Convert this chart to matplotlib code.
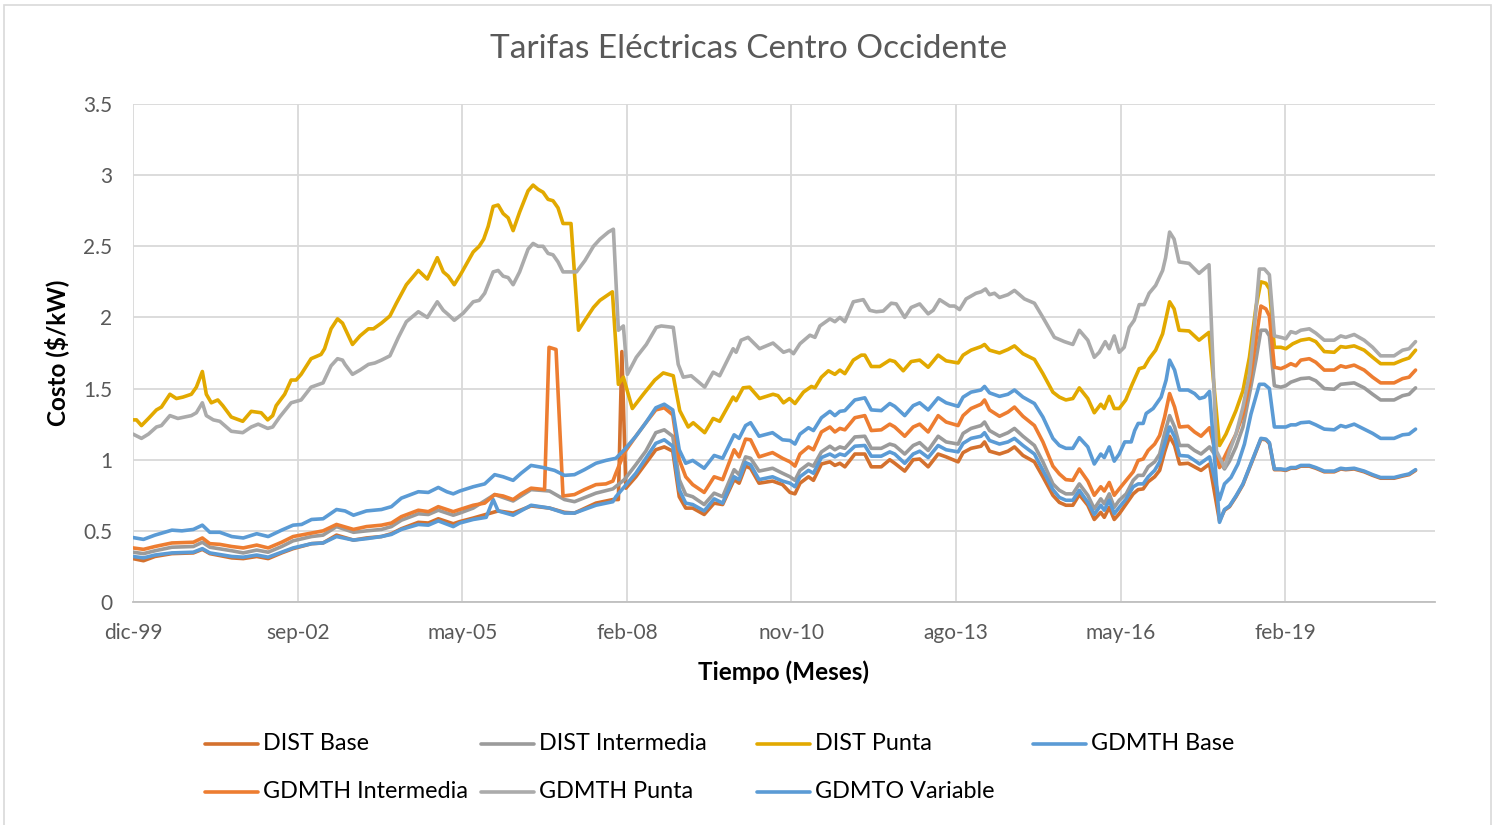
import matplotlib
matplotlib.use('Agg')
import matplotlib.pyplot as plt
from matplotlib.lines import Line2D
from matplotlib.patches import Rectangle

plt.rcParams['font.family'] = ['Lato', 'DejaVu Sans']

# x is the month index, 0 = dic-99
tick_pos = [0, 33, 66, 99, 132, 165, 198, 231]
tick_labels = ['dic-99', 'sep-02', 'may-05', 'feb-08', 'nov-10', 'ago-13', 'may-16', 'feb-19']
y_ticks = [0, 0.5, 1, 1.5, 2, 2.5, 3, 3.5]
y_labels = ['0', '0.5', '1', '1.5', '2', '2.5', '3', '3.5']

names = ['DIST Base', 'DIST Intermedia', 'DIST Punta', 'GDMTH Base',
         'GDMTH Intermedia', 'GDMTH Punta', 'GDMTO Variable']
colors = ['#D4712E', '#9B9B9B', '#E2A900', '#5B9BD5',
          '#ED7D31', '#ABABAB', '#5B9BD5']

# (month, $/kW)
dist_base = [
    (0, 0.305), (2.1, 0.29), (4.4, 0.32), (7.8, 0.34), (12.1, 0.345), (13.9, 0.37), (15.4, 0.34),
    (19.8, 0.31), (22.1, 0.305), (24.8, 0.32), (27.1, 0.305), (29.8, 0.345), (32.1, 0.375),
    (35.8, 0.41), (38.1, 0.415), (40.8, 0.47), (44.2, 0.435), (46.8, 0.45), (49.8, 0.46),
    (51.8, 0.48), (53.8, 0.515), (57.2, 0.56), (59.2, 0.555), (61.2, 0.585), (64.2, 0.55),
    (65.5, 0.565), (68.2, 0.59), (73.2, 0.64), (76.2, 0.625), (79.8, 0.675), (83.5, 0.66),
    (86.5, 0.63), (88.5, 0.625), (92.8, 0.695), (96.2, 0.72), (97.3, 0.72), (98.0, 1.76),
    (98.8, 0.80), (100.8, 0.88), (102.8, 0.975), (104.8, 1.07), (106.5, 1.09), (108.2, 1.06),
    (109.5, 0.74), (110.8, 0.66), (112.2, 0.66), (114.5, 0.615), (116.5, 0.695), (118.2, 0.685),
    (120.5, 0.86), (121.5, 0.835), (122.8, 0.955), (123.8, 0.94), (125.5, 0.835), (128.2, 0.85),
    (130.2, 0.825), (131.7, 0.77), (132.7, 0.76), (133.7, 0.835), (135.4, 0.88), (136.4, 0.855),
    (138, 0.97), (139.7, 0.985), (140.7, 0.96), (141.7, 0.975), (142.7, 0.95), (144.7, 1.04),
    (146.7, 1.04), (148, 0.95), (150, 0.95), (151.7, 1.0), (152.7, 0.975), (154.7, 0.92),
    (156.4, 1.0), (157.7, 1.005), (159.4, 0.95), (161.4, 1.04), (163, 1.02), (165.4, 0.985),
    (166.4, 1.05), (168, 1.08), (170, 1.095), (170.7, 1.125), (171.7, 1.06), (173.7, 1.04),
    (175.4, 1.06), (176.7, 1.09), (178.4, 1.03), (180.7, 0.985), (182.4, 0.88), (184.4, 0.75),
    (185.7, 0.70), (187, 0.68), (188.4, 0.68), (189.7, 0.755), (191.4, 0.68), (192.7, 0.58),
    (194, 0.63), (194.7, 0.595), (195.7, 0.665), (196.7, 0.58), (197.7, 0.62), (199.1, 0.69),
    (200.5, 0.76), (201.5, 0.79), (202.5, 0.795), (203.5, 0.845), (204.8, 0.88), (205.8, 0.925),
    (206.8, 1.055), (207.8, 1.165), (208.8, 1.10), (209.8, 0.97), (211.5, 0.975), (212.8, 0.95),
    (214.1, 0.925), (215.8, 0.97), (217.8, 0.57), (218.8, 0.645), (219.8, 0.67), (221.1, 0.74),
    (222.5, 0.825), (223.8, 0.94), (225.1, 1.055), (226.1, 1.145), (227.1, 1.14), (227.8, 1.115),
    (228.8, 0.93), (230.1, 0.93), (231.1, 0.925), (232.1, 0.94), (233.1, 0.94), (234.1, 0.955),
    (235.8, 0.955), (237.1, 0.94), (238.8, 0.915), (240.8, 0.915), (242.1, 0.935), (243.1, 0.93),
    (244.8, 0.935), (246.8, 0.915), (248.5, 0.89), (250.1, 0.87), (252.8, 0.87), (254.5, 0.885),
    (255.8, 0.895), (257.1, 0.925),
]

dist_intermedia = [
    (0, 0.35), (2.1, 0.34), (4.4, 0.36), (7.8, 0.385), (12.1, 0.39), (13.9, 0.42), (15.4, 0.385),
    (19.8, 0.36), (22.1, 0.345), (24.8, 0.365), (27.1, 0.35), (29.8, 0.39), (32.1, 0.43),
    (35.8, 0.46), (38.1, 0.47), (40.8, 0.53), (44.2, 0.49), (46.8, 0.50), (49.8, 0.51),
    (51.8, 0.53), (53.8, 0.575), (57.2, 0.62), (59.2, 0.615), (61.2, 0.645), (64.2, 0.61),
    (65.5, 0.625), (68.2, 0.66), (72.5, 0.755), (76.2, 0.71), (79.8, 0.79), (83.5, 0.78),
    (86.5, 0.72), (88.5, 0.705), (92.8, 0.765), (96.2, 0.795), (98.5, 0.86), (100.8, 0.965),
    (102.8, 1.06), (104.8, 1.19), (106.5, 1.21), (108.2, 1.165), (109.5, 0.86), (110.8, 0.755),
    (112.2, 0.74), (114.5, 0.685), (116.5, 0.765), (118.2, 0.74), (120.5, 0.93), (121.5, 0.895),
    (122.8, 1.02), (123.8, 1.01), (125.5, 0.92), (128.2, 0.94), (130.2, 0.905), (131.7, 0.88),
    (132.7, 0.855), (133.7, 0.925), (135.4, 0.97), (136.4, 0.955), (138, 1.055), (139.7, 1.095),
    (140.7, 1.07), (141.7, 1.09), (142.7, 1.08), (144.7, 1.16), (146.7, 1.165), (148, 1.08),
    (150, 1.08), (151.7, 1.11), (152.7, 1.10), (154.7, 1.04), (156.4, 1.10), (157.7, 1.12),
    (159.4, 1.065), (161.4, 1.165), (163, 1.125), (165.4, 1.11), (166.4, 1.185), (168, 1.22),
    (170, 1.24), (170.7, 1.265), (171.7, 1.205), (173.7, 1.165), (175.4, 1.19), (176.7, 1.22),
    (178.4, 1.165), (180.7, 1.10), (182.4, 0.985), (184.4, 0.83), (185.7, 0.785), (187, 0.76),
    (188.4, 0.76), (189.7, 0.83), (191.4, 0.75), (192.7, 0.655), (194, 0.725), (194.7, 0.69),
    (195.7, 0.76), (196.7, 0.665), (197.7, 0.715), (199.1, 0.76), (200.5, 0.855), (201.5, 0.89),
    (202.5, 0.89), (203.5, 0.95), (204.8, 0.985), (205.8, 1.04), (206.8, 1.185), (207.8, 1.31),
    (208.8, 1.23), (209.8, 1.10), (211.5, 1.10), (212.8, 1.065), (214.1, 1.04), (215.8, 1.09),
    (218.8, 0.935), (219.8, 0.99), (221.1, 1.09), (222.5, 1.23), (223.8, 1.46), (225.1, 1.70),
    (226.1, 1.91), (227.1, 1.91), (227.8, 1.87), (228.8, 1.52), (230.1, 1.51), (231.1, 1.52),
    (232.1, 1.545), (234.1, 1.57), (235.8, 1.575), (237.1, 1.555), (238.8, 1.50), (240.8, 1.495),
    (242.1, 1.53), (244.8, 1.54), (246.8, 1.505), (248.5, 1.46), (250.1, 1.42), (252.8, 1.42),
    (254.5, 1.45), (255.8, 1.46), (257.1, 1.505),
]

dist_punta = [
    (0, 1.28), (0.7, 1.28), (1.7, 1.24), (3.1, 1.29), (4.7, 1.35), (5.7, 1.37), (7.4, 1.46),
    (8.7, 1.43), (10, 1.44), (11.7, 1.46), (12.7, 1.51), (13.9, 1.62), (14.7, 1.46), (15.7, 1.40),
    (17, 1.42), (18, 1.38), (19.7, 1.30), (22, 1.27), (23.7, 1.34), (25.7, 1.33), (27, 1.28),
    (28, 1.31), (28.7, 1.38), (30.4, 1.46), (31.7, 1.56), (32.7, 1.56), (33.7, 1.60), (35.7, 1.71),
    (37.7, 1.74), (38.4, 1.78), (39.7, 1.92), (41, 1.99), (42, 1.96), (44, 1.81), (45.5, 1.87),
    (47.2, 1.92), (48.2, 1.92), (49.8, 1.96), (51.5, 2.01), (52.8, 2.10), (54.8, 2.23),
    (57.2, 2.33), (59, 2.27), (61, 2.42), (62.2, 2.32), (63.2, 2.29), (64.4, 2.23), (65.8, 2.31),
    (68.2, 2.46), (69.4, 2.50), (70.3, 2.55), (71.2, 2.64), (72.2, 2.78), (73.2, 2.79),
    (74.2, 2.73), (75.2, 2.70), (76.2, 2.61), (77.5, 2.74), (79.2, 2.89), (80.2, 2.93),
    (81.2, 2.90), (82.2, 2.88), (83.2, 2.83), (84.2, 2.82), (85.2, 2.77), (86.2, 2.66),
    (87.8, 2.66), (89.3, 1.91), (90.6, 1.98), (92.3, 2.07), (93.6, 2.12), (96.1, 2.18),
    (97.3, 1.53), (98.3, 1.58), (100.1, 1.36), (102.3, 1.46), (104.6, 1.56), (106.3, 1.61),
    (108.3, 1.59), (109.6, 1.345), (111.3, 1.23), (112.3, 1.26), (114.6, 1.19), (116.3, 1.29),
    (117.6, 1.27), (120.3, 1.44), (120.9, 1.415), (122.3, 1.505), (123.6, 1.51), (125.6, 1.43),
    (128.3, 1.46), (129.3, 1.45), (130.4, 1.40), (131.6, 1.43), (132.7, 1.395), (134.4, 1.475),
    (136, 1.515), (136.7, 1.505), (138, 1.58), (139.4, 1.625), (140.7, 1.60), (141.7, 1.63),
    (142.7, 1.605), (144.4, 1.70), (146, 1.735), (146.7, 1.735), (148, 1.655), (149.7, 1.655),
    (151.7, 1.70), (152.7, 1.69), (154.4, 1.625), (156, 1.69), (157.7, 1.70), (159.4, 1.65),
    (161.4, 1.735), (163, 1.695), (165.4, 1.68), (166.4, 1.735), (168, 1.77), (170, 1.795),
    (170.7, 1.81), (171.7, 1.77), (173.7, 1.75), (175.4, 1.775), (176.7, 1.80), (178.4, 1.745),
    (180.7, 1.705), (182.4, 1.605), (184.4, 1.475), (185.7, 1.44), (187, 1.42), (188.4, 1.43),
    (189.7, 1.505), (191.4, 1.43), (192.7, 1.33), (194, 1.39), (194.7, 1.36), (195.7, 1.445),
    (196.7, 1.36), (197.7, 1.36), (199, 1.42), (200.3, 1.53), (201.7, 1.64), (202.7, 1.65),
    (203.7, 1.71), (205, 1.77), (206.4, 1.885), (207.8, 2.11), (208.7, 2.06), (209.7, 1.91),
    (211.7, 1.905), (213.7, 1.84), (215.7, 1.895), (217.8, 1.10), (219.1, 1.18), (221.1, 1.345),
    (222.5, 1.485), (223.8, 1.72), (225.1, 2.07), (226.1, 2.25), (227.1, 2.24), (227.8, 2.20),
    (228.8, 1.79), (230.1, 1.79), (231.1, 1.78), (232.5, 1.815), (234.1, 1.84), (235.8, 1.85),
    (237.1, 1.83), (238.8, 1.76), (240.8, 1.755), (242.1, 1.795), (243.1, 1.79), (244.8, 1.80),
    (246.8, 1.77), (248.5, 1.72), (250.1, 1.675), (252.8, 1.675), (254.5, 1.70), (255.8, 1.715),
    (257.1, 1.77),
]

gdmth_base = [
    (0, 0.32), (2.1, 0.31), (4.4, 0.33), (7.8, 0.345), (12.1, 0.35), (13.9, 0.375), (15.4, 0.345),
    (19.8, 0.32), (22.1, 0.315), (24.8, 0.33), (27.1, 0.315), (29.8, 0.35), (32.1, 0.38),
    (35.8, 0.41), (38.1, 0.415), (40.8, 0.46), (44.2, 0.435), (46.8, 0.445), (49.8, 0.46),
    (51.8, 0.475), (53.8, 0.51), (57.2, 0.545), (59.2, 0.54), (61.2, 0.57), (64.2, 0.53),
    (65.5, 0.555), (68.2, 0.58), (70.8, 0.595), (72.2, 0.72), (73.2, 0.64), (76.2, 0.61),
    (79.8, 0.68), (83.5, 0.66), (86.5, 0.625), (88.5, 0.625), (92.8, 0.68), (96.2, 0.705),
    (96.8, 0.74), (98.5, 0.81), (100.8, 0.905), (102.8, 1.01), (104.8, 1.115), (106.5, 1.14),
    (108.2, 1.095), (109.5, 0.79), (110.8, 0.695), (112.2, 0.685), (114.5, 0.64), (116.5, 0.725),
    (118.2, 0.695), (120.5, 0.88), (121.5, 0.86), (122.8, 0.98), (123.8, 0.965), (125.5, 0.86),
    (128.2, 0.88), (130.2, 0.85), (131.7, 0.835), (132.7, 0.81), (133.7, 0.88), (135.4, 0.925),
    (136.4, 0.905), (138, 1.015), (139.7, 1.04), (140.7, 1.02), (141.7, 1.04), (142.7, 1.03),
    (144.7, 1.095), (146.7, 1.10), (148, 1.025), (150, 1.025), (151.7, 1.055), (152.7, 1.04),
    (154.7, 0.975), (156.4, 1.04), (157.7, 1.06), (159.4, 1.015), (161.4, 1.10), (163, 1.07),
    (165.4, 1.055), (166.4, 1.115), (168, 1.15), (170, 1.165), (170.7, 1.19), (171.7, 1.135),
    (173.7, 1.11), (175.4, 1.125), (176.7, 1.15), (178.4, 1.10), (180.7, 1.04), (182.4, 0.925),
    (184.4, 0.79), (185.7, 0.735), (187, 0.715), (188.4, 0.715), (189.7, 0.785), (191.4, 0.70),
    (192.7, 0.615), (194, 0.68), (194.7, 0.645), (195.7, 0.715), (196.7, 0.62), (197.7, 0.665),
    (199.1, 0.725), (200.5, 0.81), (201.5, 0.83), (202.5, 0.83), (203.5, 0.88), (204.8, 0.925),
    (205.8, 0.985), (206.8, 1.11), (207.8, 1.23), (208.8, 1.16), (209.8, 1.03), (211.5, 1.025),
    (212.8, 0.995), (213.8, 0.97), (215.8, 1.02), (217.8, 0.72), (218.8, 0.83), (220.1, 0.875),
    (221.5, 0.97), (222.8, 1.11), (224.1, 1.32), (225.8, 1.53), (226.8, 1.53), (227.8, 1.50),
    (228.8, 1.23), (230.1, 1.23), (231.1, 1.23), (232.1, 1.245), (233.1, 1.245), (234.1, 1.26),
    (235.8, 1.265), (237.1, 1.245), (238.8, 1.215), (240.8, 1.21), (242.1, 1.24), (243.1, 1.23),
    (244.8, 1.25), (246.8, 1.215), (248.5, 1.185), (250.1, 1.15), (252.8, 1.15), (254.5, 1.175),
    (255.8, 1.18), (257.1, 1.215),
]

gdmth_intermedia = [
    (0, 0.38), (2.1, 0.37), (4.4, 0.39), (7.8, 0.415), (12.1, 0.42), (13.9, 0.45), (15.4, 0.41),
    (17.4, 0.405), (19.8, 0.39), (22.1, 0.38), (24.8, 0.40), (27.1, 0.38), (29.8, 0.42),
    (32.1, 0.46), (35.8, 0.485), (38.1, 0.50), (40.8, 0.545), (44.2, 0.51), (46.8, 0.53),
    (49.8, 0.54), (51.8, 0.555), (53.8, 0.60), (57.2, 0.645), (59.2, 0.635), (61.2, 0.67),
    (64.2, 0.635), (65.5, 0.65), (68.2, 0.68), (70.5, 0.695), (72.5, 0.755), (74.2, 0.745),
    (76.2, 0.72), (77.8, 0.76), (79.8, 0.80), (82.5, 0.79), (83.4, 1.79), (84.8, 1.775),
    (86.2, 0.745), (88.5, 0.755), (90.5, 0.79), (92.8, 0.825), (94.8, 0.83), (96.2, 0.85),
    (96.8, 0.905), (98.5, 1.05), (100.8, 1.165), (102.8, 1.26), (104.8, 1.35), (106.5, 1.365),
    (108.2, 1.315), (109.5, 1.0), (110.8, 0.88), (112.2, 0.825), (114.5, 0.77), (116.5, 0.88),
    (118.2, 0.86), (120.5, 1.07), (121.5, 1.02), (122.8, 1.145), (123.8, 1.14), (125.5, 1.02),
    (128.2, 1.05), (130.2, 1.01), (131.7, 0.985), (132.7, 0.955), (133.7, 1.04), (135.4, 1.09),
    (136.4, 1.07), (138, 1.195), (139.7, 1.23), (140.7, 1.195), (141.7, 1.22), (142.7, 1.21),
    (144.7, 1.295), (146.7, 1.31), (148, 1.205), (150, 1.21), (151.7, 1.25), (152.7, 1.23),
    (154.7, 1.165), (156.4, 1.23), (157.7, 1.25), (159.4, 1.195), (161.4, 1.31), (163, 1.265),
    (165.4, 1.24), (166.4, 1.31), (168, 1.36), (170, 1.39), (170.7, 1.42), (171.7, 1.35),
    (173.7, 1.305), (175.4, 1.335), (176.7, 1.37), (178.4, 1.305), (180.7, 1.24), (182.4, 1.125),
    (184.4, 0.955), (185.7, 0.90), (187, 0.86), (188.4, 0.855), (189.7, 0.935), (191.4, 0.85),
    (192.7, 0.75), (194, 0.81), (194.7, 0.78), (195.7, 0.84), (196.7, 0.75), (197.7, 0.795),
    (199.1, 0.855), (200.5, 0.915), (201.5, 0.995), (202.5, 1.005), (203.5, 1.065), (204.8, 1.11),
    (205.8, 1.17), (206.8, 1.30), (207.8, 1.465), (208.8, 1.37), (209.8, 1.23), (211.5, 1.235),
    (212.8, 1.195), (214.1, 1.165), (215.8, 1.225), (217.8, 0.945), (219.1, 1.04), (221.1, 1.18),
    (222.5, 1.32), (223.8, 1.53), (225.1, 1.84), (226.1, 2.08), (227.1, 2.06), (227.8, 2.01),
    (228.8, 1.65), (230.1, 1.64), (231.1, 1.655), (232.1, 1.675), (233.1, 1.66), (234.1, 1.70),
    (235.8, 1.71), (237.1, 1.685), (238.8, 1.63), (240.8, 1.63), (242.1, 1.66), (243.1, 1.65),
    (244.8, 1.665), (246.8, 1.63), (248.5, 1.58), (250.1, 1.54), (252.8, 1.54), (254.5, 1.57),
    (255.8, 1.58), (257.1, 1.63),
]

gdmth_punta = [
    (0, 1.18), (1.7, 1.15), (3.1, 1.18), (4.7, 1.23), (5.7, 1.24), (7.4, 1.31), (9, 1.29),
    (11.7, 1.31), (12.7, 1.33), (13.9, 1.40), (14.7, 1.31), (16.1, 1.28), (17.4, 1.27),
    (19.7, 1.20), (22, 1.19), (23.7, 1.23), (25.1, 1.25), (27, 1.22), (28, 1.23), (29.4, 1.30),
    (31.7, 1.40), (33.7, 1.42), (35.7, 1.51), (38.1, 1.54), (39.7, 1.66), (41, 1.71), (42, 1.70),
    (42.5, 1.67), (44, 1.60), (45.5, 1.63), (47.2, 1.67), (48.5, 1.68), (49.8, 1.70), (51.5, 1.73),
    (53.2, 1.86), (54.8, 1.97), (57.2, 2.04), (59, 2.00), (61, 2.11), (62.2, 2.05), (63.2, 2.02),
    (64.4, 1.98), (66.2, 2.03), (68.2, 2.11), (69.4, 2.12), (70.5, 2.17), (72.2, 2.32),
    (73.2, 2.33), (74.2, 2.29), (75.2, 2.28), (76.2, 2.23), (77.5, 2.32), (79.2, 2.48),
    (80.2, 2.52), (81.2, 2.50), (82.2, 2.50), (83.2, 2.45), (84.2, 2.44), (85.2, 2.39),
    (86.2, 2.32), (88.9, 2.32), (90.6, 2.40), (92.3, 2.50), (93.6, 2.55), (95.3, 2.60),
    (96.3, 2.62), (97.3, 1.91), (98.3, 1.94), (99.1, 1.60), (100.9, 1.72), (102.9, 1.81),
    (104.9, 1.93), (105.9, 1.94), (108.3, 1.93), (109.3, 1.67), (110.3, 1.58), (111.9, 1.59),
    (114.6, 1.51), (116.3, 1.615), (117.6, 1.59), (120.3, 1.78), (120.9, 1.755), (121.9, 1.84),
    (123.3, 1.86), (125.6, 1.78), (128.3, 1.82), (130.4, 1.755), (131.6, 1.77), (132.4, 1.745),
    (133.7, 1.815), (135.7, 1.875), (136.7, 1.86), (137.7, 1.94), (139.7, 1.99), (140.7, 1.97),
    (141.7, 2.0), (142.7, 1.97), (144.4, 2.11), (146.4, 2.125), (147.7, 2.05), (149, 2.04),
    (150.4, 2.045), (152, 2.10), (153, 2.095), (154.7, 2.0), (156, 2.07), (157.7, 2.095),
    (159.4, 2.025), (160.4, 2.05), (161.7, 2.125), (163.7, 2.08), (164.7, 2.08), (165.7, 2.055),
    (167, 2.13), (169, 2.17), (170, 2.18), (170.9, 2.20), (171.7, 2.16), (172.7, 2.17),
    (173.7, 2.14), (175.4, 2.16), (176.7, 2.19), (178.7, 2.13), (180.7, 2.10), (182.4, 2.0),
    (184.7, 1.86), (186.7, 1.83), (188.4, 1.81), (189.7, 1.91), (191.4, 1.84), (192.7, 1.72),
    (193.7, 1.755), (194.9, 1.83), (195.7, 1.78), (196.7, 1.87), (197.7, 1.755), (198.7, 1.79),
    (199.7, 1.93), (200.7, 1.98), (201.7, 2.09), (202.7, 2.09), (203.7, 2.17), (205, 2.225),
    (206.4, 2.33), (207, 2.42), (207.8, 2.60), (208.7, 2.55), (209.7, 2.39), (211.7, 2.38),
    (212.4, 2.355), (213.7, 2.31), (215.7, 2.37), (217.2, 1.06), (218.8, 0.945), (219.8, 1.06),
    (221.1, 1.18), (222.5, 1.37), (223.8, 1.60), (224.8, 1.93), (225.8, 2.34), (226.8, 2.34),
    (227.8, 2.30), (228.8, 1.87), (230.1, 1.86), (231.1, 1.85), (232.1, 1.90), (233.1, 1.89),
    (234.1, 1.91), (235.8, 1.92), (237.1, 1.89), (238.8, 1.84), (240.8, 1.84), (242.1, 1.87),
    (243.1, 1.86), (244.8, 1.88), (246.8, 1.84), (248.5, 1.79), (250.1, 1.73), (252.8, 1.73),
    (254.5, 1.77), (255.8, 1.78), (257.1, 1.83),
]

gdmto_variable = [
    (0, 0.453), (2.1, 0.44), (4.4, 0.47), (7.8, 0.505), (9.8, 0.50), (12.1, 0.51), (13.9, 0.54),
    (15.4, 0.49), (17.4, 0.49), (19.8, 0.46), (22.1, 0.45), (24.8, 0.48), (27.1, 0.46),
    (29.8, 0.505), (32.1, 0.54), (33.8, 0.545), (35.8, 0.58), (38.1, 0.585), (40.8, 0.65),
    (42.5, 0.64), (44.2, 0.61), (46.8, 0.64), (49.8, 0.65), (51.8, 0.67), (53.8, 0.73),
    (57.2, 0.775), (59.2, 0.77), (61.2, 0.805), (62.9, 0.775), (64.2, 0.76), (65.5, 0.78),
    (68.2, 0.81), (70.5, 0.83), (72.5, 0.895), (74.2, 0.88), (76.2, 0.855), (77.8, 0.905),
    (79.8, 0.96), (82.2, 0.945), (84.5, 0.925), (86.5, 0.89), (88.5, 0.895), (90.5, 0.93),
    (92.8, 0.975), (94.8, 0.995), (96.8, 1.01), (98.5, 1.07), (100.8, 1.165), (102.8, 1.26),
    (104.8, 1.365), (106.5, 1.39), (108.2, 1.35), (109.5, 1.07), (110.8, 0.975), (112.2, 0.995),
    (114.5, 0.94), (116.5, 1.03), (118.2, 1.01), (120.5, 1.175), (121.5, 1.15), (122.8, 1.24),
    (123.8, 1.26), (125.5, 1.165), (128.2, 1.19), (130.2, 1.14), (131.7, 1.135), (132.7, 1.11),
    (133.7, 1.18), (135.4, 1.225), (136.4, 1.205), (138, 1.295), (139.7, 1.34), (140.7, 1.31),
    (141.7, 1.34), (142.7, 1.345), (144.7, 1.42), (146.7, 1.435), (148, 1.35), (150, 1.345),
    (151.7, 1.395), (152.7, 1.375), (154.7, 1.31), (156.4, 1.38), (157.7, 1.40), (159.4, 1.35),
    (161.4, 1.435), (163, 1.40), (165.4, 1.375), (166.4, 1.44), (168, 1.475), (170, 1.49),
    (170.7, 1.515), (171.7, 1.47), (173.7, 1.445), (175.4, 1.46), (176.7, 1.49), (178.4, 1.44),
    (180.7, 1.395), (182.4, 1.30), (184.4, 1.15), (185.7, 1.10), (187, 1.08), (188.4, 1.08),
    (189.7, 1.155), (191.4, 1.09), (192.7, 0.97), (194, 1.04), (194.7, 1.015), (195.7, 1.09),
    (196.7, 0.99), (197.7, 1.04), (198.8, 1.125), (200.1, 1.125), (200.8, 1.205), (201.5, 1.255),
    (202.5, 1.255), (203.1, 1.325), (204.5, 1.36), (206.1, 1.44), (207.1, 1.56), (207.8, 1.70),
    (208.8, 1.63), (209.8, 1.49), (211.5, 1.49), (212.8, 1.465), (213.8, 1.43), (214.8, 1.44),
    (215.8, 1.48), (217.8, 0.56), (218.8, 0.65), (219.8, 0.675), (221.1, 0.745), (222.5, 0.83),
    (223.8, 0.945), (225.1, 1.06), (226.1, 1.15), (227.1, 1.145), (227.8, 1.12), (228.8, 0.935),
    (230.1, 0.935), (231.1, 0.93), (232.1, 0.945), (233.1, 0.945), (234.1, 0.96), (235.8, 0.96),
    (237.1, 0.945), (238.8, 0.92), (240.8, 0.92), (242.1, 0.94), (243.1, 0.935), (244.8, 0.94),
    (246.8, 0.92), (248.5, 0.895), (250.1, 0.875), (252.8, 0.875), (254.5, 0.89), (255.8, 0.90),
    (257.1, 0.93),
]

series = [dist_base, dist_intermedia, dist_punta, gdmth_base,
          gdmth_intermedia, gdmth_punta, gdmto_variable]

W, H = 1497, 825
fig = plt.figure(figsize=(W / 100, H / 100), dpi=100)

# chart area border
fig.add_artist(Rectangle((4 / W, -0.01), 1487 / W, 1.01 - 5 / H, transform=fig.transFigure,
                         fill=False, edgecolor='#D9D9D9', lw=1.2))

ax = fig.add_axes([133 / W, 1 - 602 / H, (1435 - 133) / W, (602 - 104) / H])
for data, color in zip(series, colors):
    m, v = zip(*data)
    ax.plot(m, v, color=color, lw=2.6, solid_joinstyle='round', solid_capstyle='round')

ax.set_xlim(0, 261)
ax.set_ylim(0, 3.5)
ax.set_xticks(tick_pos, tick_labels)
ax.set_yticks(y_ticks, y_labels)
ax.grid(color='#D9D9D9', lw=1.3)
ax.set_axisbelow(True)
for s in ['top', 'right', 'left']:
    ax.spines[s].set_visible(False)
ax.spines['bottom'].set_color('#BFBFBF')
ax.spines['bottom'].set_linewidth(1.3)
ax.tick_params(axis='both', length=0, labelsize=15, labelcolor='#595959')
ax.tick_params(axis='x', pad=15)
ax.tick_params(axis='y', pad=15)

fig.text(749 / W, 1 - 49 / H, 'Tarifas Eléctricas Centro Occidente', ha='center', va='center',
         fontsize=24, color='#595959')
fig.text(57 / W, 1 - 353 / H, 'Costo ($/kW)', rotation=90, ha='center', va='center',
         fontsize=17.5, fontweight='bold', color='black')
fig.text(784 / W, 1 - 672 / H, 'Tiempo (Meses)', ha='center', va='center',
         fontsize=17.5, fontweight='bold', color='black')

# legend, 4 columns in 2 rows
col_x = [205, 481, 757, 1033]
row_y = [744, 792]
for i, (name, color) in enumerate(zip(names, colors)):
    x0 = col_x[i % 4]
    y0 = row_y[i // 4]
    fig.add_artist(Line2D([x0 / W, (x0 + 53) / W], [1 - y0 / H, 1 - y0 / H],
                          transform=fig.transFigure, color=color, lw=2.6,
                          solid_capstyle='round'))
    fig.text((x0 + 58) / W, 1 - y0 / H, name, ha='left', va='center',
             fontsize=16.8, color='black')

fig.savefig('out.png', dpi=100)
